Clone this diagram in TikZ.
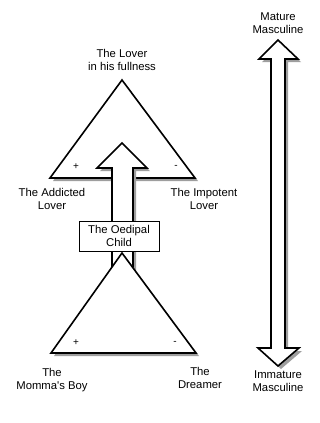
\documentclass[tikz,border=0pt]{standalone}
\usepackage{fontspec}
\setmainfont{Liberation Sans}
\begin{document}
\begin{tikzpicture}[x=1pt,y=-1pt,
  lbl/.style={align=center,font=\fontsize{11.3}{13}\selectfont,inner sep=0pt},
  sgn/.style={font=\fontsize{10}{12}\selectfont,inner sep=0pt},
  shp/.style={draw=black,fill=white,line width=1.6pt,line join=miter},
  shd/.style={fill=black!38,draw=none}]
\useasboundingbox (0,0) rectangle (320,423);
% upper triangle
\fill[shd,shift={(3,3)}] (122,80) -- (195,178) -- (50,178) -- cycle;
\draw[shp] (122,80) -- (195,178) -- (50,178) -- cycle;
% central arrow
\fill[shd,shift={(3,3)}] (122,143) -- (147,168) -- (133,168) -- (133,270) -- (112,270) -- (112,168) -- (97,168) -- cycle;
\draw[shp] (122,143) -- (147,168) -- (133,168) -- (133,272) -- (112,272) -- (112,168) -- (97,168) -- cycle;
% lower triangle
\fill[shd,shift={(3,3)}] (122,253) -- (196,353) -- (51,353) -- cycle;
\draw[shp] (122,253) -- (196,353) -- (51,353) -- cycle;
% box
\node[draw=black,fill=white,line width=1pt,minimum width=80pt,minimum height=30pt,lbl] (oed) at (119,236) {The Oedipal\\Child};
% right double arrow
\fill[shd,shift={(3,3)}] (278,40) -- (298,59) -- (285,59) -- (285,348) -- (299,348) -- (278,366) -- (258,348) -- (271,348) -- (271,59) -- (259,59) -- cycle;
\draw[shp] (278,40) -- (298,59) -- (285,59) -- (285,348) -- (299,348) -- (278,366) -- (258,348) -- (271,348) -- (271,59) -- (259,59) -- cycle;
% labels
\node[lbl] (lover) at (122,59.5) {The Lover\\in his fullness};
\node[lbl] (addicted) at (52,198.5) {The Addicted\\Lover};
\node[lbl] (impotent) at (204,198.5) {The Impotent\\Lover};
\node[lbl] (momma) at (52,380) {The\\Momma\textquotesingle s Boy};
\node[lbl] (dreamer) at (200,377.5) {The\\Dreamer};
\node[lbl] (mature) at (278,23) {Mature\\Masculine};
\node[lbl] (immature) at (278,381.5) {Immature\\Masculine};
\node[sgn] (p1) at (76,167) {+};
\node[sgn] (m1) at (176,167) {-};
\node[sgn] (p2) at (76,343) {+};
\node[sgn] (m2) at (175,343) {-};
\end{tikzpicture}
\end{document}
